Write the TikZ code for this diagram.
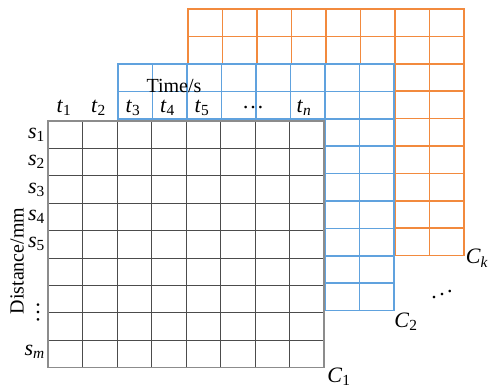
\documentclass[tikz,border=0pt]{standalone}
\usepackage{fontspec}
\setmainfont{Liberation Serif}
\usetikzlibrary{positioning}
\definecolor{gridorange}{RGB}{242,138,62}
\definecolor{gridblue}{RGB}{96,162,222}

\begin{document}
\begin{tikzpicture}[x=1pt, y=-1pt,
    gridline/.style   = {line width=0.8pt, line cap=rect},
    orangegrid/.style = {gridline, draw=gridorange, line width=1.5pt},
    bluegrid/.style   = {gridline, draw=gridblue, line width=1.5pt},
    graygrid/.style   = {gridline, draw=black!70},
    grayborder/.style = {line width=1.3pt, draw=black!45},
    txt/.style        = {font=\fontsize{20}{24}\selectfont, inner sep=0pt},
    sym/.style        = {font=\fontsize{22}{26}\selectfont, inner sep=0pt},
]
\useasboundingbox (0,0) rectangle (490,390);

% --- three stacked 8x9 grids: C_k (back), C_2, C_1 (front) ---
\foreach \gx/\gy/\gs in {188/9/orangegrid, 118/64/bluegrid, 48/121/graygrid} {
    \fill[white] (\gx,\gy) rectangle ++(8*34.5, 9*27.4);
    \foreach \i in {0,...,8}
        \draw[\gs] ({\gx+\i*34.5}, \gy) -- ++(0, 9*27.4);
    \foreach \j in {0,...,9}
        \draw[\gs] (\gx, {\gy+\j*27.4}) -- ++(8*34.5, 0);
}
\draw[grayborder] (48,121) rectangle ++(8*34.5, 9*27.4);

% --- time labels ---
\node[txt] (time) at (174, 86) {Time/s};
\foreach \k in {1,...,5}
    \node[sym] (t\k) at ({64+(\k-1)*34.5}, 108) {\textit{t}\textsubscript{\k}};
\node[sym] (tdots) at (253, 108) {\dots};
\node[sym] (tn) at (304, 108) {\textit{t}\textsubscript{\textit{n}}};

% --- distance labels ---
\node[txt, rotate=90] (dist) at (17, 261) {Distance/mm};
\foreach \k in {1,...,5}
    \node[sym, anchor=east] (s\k) at (45, {121+(\k-0.5)*27.4}) {\textit{s}\textsubscript{\k}};
\node[sym, rotate=-90] (sdots) at (38, 312) {\dots};
\node[sym, anchor=east] (sm) at (45, 352) {\textit{s}\textsubscript{\textit{m}}};

% --- grid names ---
\node[sym] (c1) at (339, 377) {\textit{C}\textsubscript{1}};
\node[sym] (c2) at (406, 322) {\textit{C}\textsubscript{2}};
\node[sym] (ck) at (477, 258) {\textit{C}\textsubscript{\textit{k}}};
\node[sym] (cdots) at (442, 291) {\reflectbox{$\ddots$}};

\end{tikzpicture}
\end{document}
